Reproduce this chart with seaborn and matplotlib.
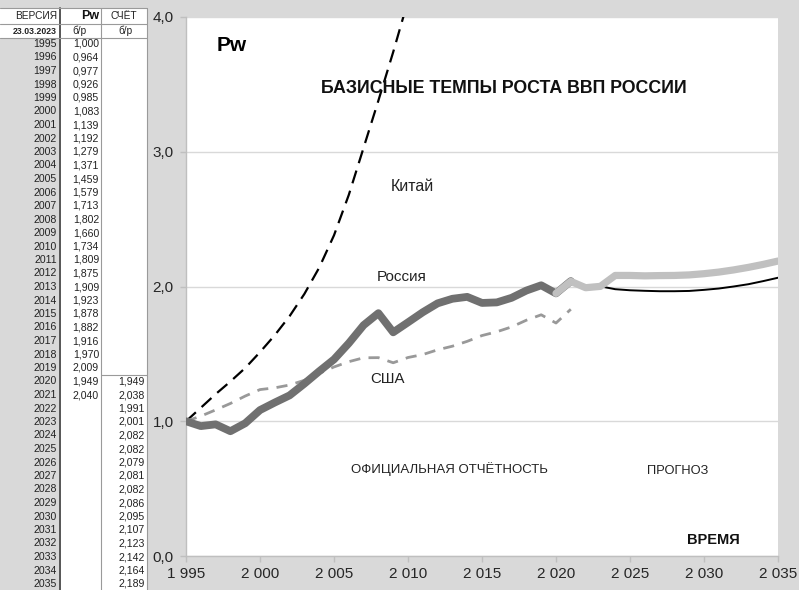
import matplotlib
matplotlib.use("Agg")
import matplotlib.pyplot as plt
import seaborn as sns
import pandas as pd
from matplotlib.ticker import FuncFormatter, FixedLocator
from matplotlib.patches import Rectangle
from matplotlib.lines import Line2D

# ---------------- data ----------------
years_hist = list(range(1995, 2022))
russia_pw = [1.000, 0.964, 0.977, 0.926, 0.985, 1.083, 1.139, 1.192, 1.279, 1.371,
             1.459, 1.579, 1.713, 1.802, 1.660, 1.734, 1.809, 1.875, 1.909, 1.923,
             1.878, 1.882, 1.916, 1.970, 2.009, 1.949, 2.040]

years_calc = list(range(2020, 2036))
russia_calc = [1.949, 2.038, 1.991, 2.001, 2.082, 2.082, 2.079, 2.081, 2.082, 2.086,
               2.095, 2.107, 2.123, 2.142, 2.164, 2.189]

years_alt = list(range(2023, 2036))
russia_alt = [2.001, 1.980, 1.972, 1.968, 1.965, 1.965, 1.967, 1.975, 1.985, 2.000,
              2.017, 2.040, 2.065]

years_china = list(range(1995, 2011))
china = [1.000, 1.100, 1.201, 1.295, 1.395, 1.513, 1.639, 1.780, 1.945, 2.140,
         2.380, 2.680, 3.030, 3.380, 3.740, 4.121]

years_usa = list(range(1995, 2022))
usa = [1.000, 1.038, 1.084, 1.132, 1.187, 1.235, 1.248, 1.269, 1.304, 1.355,
       1.403, 1.442, 1.471, 1.472, 1.434, 1.473, 1.495, 1.530, 1.557, 1.593,
       1.636, 1.664, 1.700, 1.750, 1.790, 1.729, 1.831]

table_years = list(range(1995, 2036))
x_ticks = [1995, 2000, 2005, 2010, 2015, 2020, 2025, 2030, 2035]
y_ticks = [0.0, 1.0, 2.0, 3.0, 4.0]

title_text = "БАЗИСНЫЕ ТЕМПЫ РОСТА ВВП РОССИИ"

# ---------------- style ----------------
sns.set_theme(style="white")
plt.rcParams['font.family'] = ['Liberation Sans', 'DejaVu Sans']

W, H = 799, 590
BG = '#d9d9d9'
fig = plt.figure(figsize=(W / 100, H / 100), dpi=100, facecolor=BG)

def fx(px):
    return px / W

def fy(py):
    return 1 - py / H

ax = fig.add_axes([fx(186), fy(556), fx(778) - fx(186), fy(17) - fy(556)])
ax.set_facecolor('white')

# ---------------- series ----------------
df_china = pd.DataFrame({'year': years_china, 'val': china})
df_usa = pd.DataFrame({'year': years_usa, 'val': usa})
df_ru = pd.DataFrame({'year': years_hist, 'val': russia_pw})
df_alt = pd.DataFrame({'year': years_alt, 'val': russia_alt})
df_calc = pd.DataFrame({'year': years_calc, 'val': russia_calc})

sns.lineplot(data=df_china, x='year', y='val', ax=ax, color='black', linewidth=1.6,
             zorder=3)
ax.lines[-1].set_dashes((6, 3.5))
sns.lineplot(data=df_usa, x='year', y='val', ax=ax, color='#999999', linewidth=2.0,
             zorder=3)
ax.lines[-1].set_dashes((4, 3))
sns.lineplot(data=df_ru, x='year', y='val', ax=ax, color='#707070', linewidth=5.6,
             zorder=4, solid_capstyle='round', solid_joinstyle='round')
sns.lineplot(data=df_alt, x='year', y='val', ax=ax, color='black', linewidth=1.4,
             zorder=5)
sns.lineplot(data=df_calc, x='year', y='val', ax=ax, color='#c0c0c0', linewidth=5.2,
             zorder=6, solid_capstyle='round', solid_joinstyle='round')

ax.set_xlim(1995, 2035)
ax.set_ylim(0, 4)
ax.xaxis.set_major_locator(FixedLocator(x_ticks))
ax.yaxis.set_major_locator(FixedLocator(y_ticks))
ax.xaxis.set_major_formatter(FuncFormatter(lambda v, p: f"{int(round(v)):,}".replace(",", " ")))
ax.yaxis.set_major_formatter(FuncFormatter(lambda v, p: f"{v:.1f}".replace(".", ",")))
ax.set_xlabel('')
ax.set_ylabel('')

ax.grid(axis='y', color='#d9d9d9', linewidth=1.0)
ax.grid(axis='x', visible=False)
ax.set_axisbelow(True)
for s in ['top', 'right']:
    ax.spines[s].set_visible(False)
for s in ['left', 'bottom']:
    ax.spines[s].set_color('#bfbfbf')
    ax.spines[s].set_linewidth(1.0)
ax.tick_params(axis='both', which='major', direction='out', length=4, width=1,
               color='#bfbfbf', labelcolor='#262626', labelsize=11)
ax.tick_params(axis='x', pad=4)
ax.tick_params(axis='y', pad=5)
ax.tick_params(left=True, bottom=True)

# ---------------- annotations ----------------
ax.text(1997.1, 3.785, 'Pw', fontsize=15, fontweight='bold', color='black',
        ha='left', va='center')
ax.text(2016.5, 3.47, title_text, fontsize=12.8, fontweight='bold', color='#111111',
        ha='center', va='center')
ax.text(2010.3, 2.74, 'Китай', fontsize=11.5, color='#222222', ha='center', va='center')
ax.text(2009.6, 2.07, 'Россия', fontsize=11, color='#222222', ha='center', va='center')
ax.text(2008.6, 1.31, 'США', fontsize=10.8, color='#222222', ha='center', va='center')
ax.text(2012.8, 0.646, 'ОФИЦИАЛЬНАЯ ОТЧЁТНОСТЬ', fontsize=9.5, color='#222222',
        ha='center', va='center')
ax.text(2028.2, 0.63, 'ПРОГНОЗ', fontsize=9.3, color='#222222', ha='center', va='center')
ax.text(2030.6, 0.119, 'ВРЕМЯ', fontsize=10.5, fontweight='bold', color='#111111',
        ha='center', va='center')

# ---------------- table ----------------
T = fig.transFigure
def rect(x0, y0, x1, y1, color):
    fig.patches.append(Rectangle((fx(x0), fy(y1)), fx(x1) - fx(x0), fy(y0) - fy(y1),
                                 transform=T, facecolor=color, edgecolor='none', zorder=0))

def hline(y, x0, x1, color='#9a9a9a', lw=0.8):
    fig.lines.append(Line2D([fx(x0), fx(x1)], [fy(y), fy(y)], transform=T,
                            color=color, linewidth=lw))

def vline(x, y0, y1, color='#9a9a9a', lw=0.8):
    fig.lines.append(Line2D([fx(x), fx(x)], [fy(y0), fy(y1)], transform=T,
                            color=color, linewidth=lw))

rect(0, 8, 59, 38, 'white')
rect(59, 8, 147, H + 2, 'white')
vline(59.5, 8, H + 2, color='#555555', lw=1.4)
vline(101, 8, H + 2)
vline(147, 8, H + 2)
hline(8, 0, 147)
hline(24, 0, 147)
hline(38, 0, 147)
row0 = 44.0
dy = 13.5
hline(row0 + dy * 25 - dy / 2, 101, 147)

fig.text(fx(57), fy(16), 'ВЕРСИЯ', fontsize=7.3, color='#222222', ha='right', va='center')
fig.text(fx(99), fy(16), 'Pw', fontsize=9, fontweight='bold', color='#111111',
         ha='right', va='center')
fig.text(fx(124), fy(16), 'СЧЁТ', fontsize=7.3, color='#222222', ha='center', va='center')
fig.text(fx(57), fy(31), '23.03.2023', fontsize=6.3, fontweight='bold', color='#222222',
         ha='right', va='center')
fig.text(fx(79), fy(31), 'б/р', fontsize=7.3, color='#222222', ha='center', va='center')
fig.text(fx(125), fy(31), 'б/р', fontsize=7.3, color='#222222', ha='center', va='center')

def fmt(v):
    return f"{v:.3f}".replace('.', ',')

for i, yr in enumerate(table_years):
    py = row0 + dy * i
    fig.text(fx(57), fy(py), str(yr), fontsize=7.6, color='#222222', ha='right', va='center')
    if yr in years_hist:
        fig.text(fx(99), fy(py), fmt(russia_pw[years_hist.index(yr)]), fontsize=7.6,
                 color='#222222', ha='right', va='center')
    if yr in years_calc:
        fig.text(fx(145), fy(py), fmt(russia_calc[years_calc.index(yr)]), fontsize=7.6,
                 color='#222222', ha='right', va='center')

fig.savefig('out.png', dpi=100, facecolor=BG)
